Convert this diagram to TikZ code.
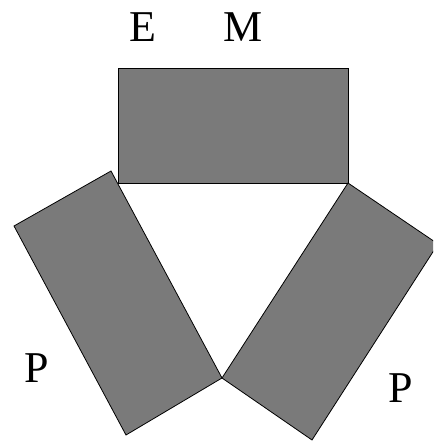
\documentclass[tikz,border=0pt]{standalone}
\usepackage{fontspec}
\setmainfont{Liberation Serif}
\tikzset{
  bloco/.style={draw=black, line width=0.8pt, fill=black!52},
  letra/.style={font=\fontsize{44}{44}\selectfont, inner sep=0pt},
}

\begin{document}
\begin{tikzpicture}[x=1pt, y=-1pt]
  \useasboundingbox (0,0) rectangle (433,441);
  \clip (0,0) rectangle (433,441);
  % cantos dos tres blocos
  \coordinate (m1) at (118,68);
  \coordinate (m2) at (348,68);
  \coordinate (m3) at (348,183);
  \coordinate (m4) at (118,183);
  \coordinate (v) at (222,378);
  \coordinate (l1) at (111,171);
  \coordinate (l2) at (14,226);
  \coordinate (l3) at (126,435);
  \coordinate (r2) at (438,244);
  \coordinate (r3) at (312,440);
  \draw[bloco] (m1) -- (m2) -- (m3) -- (m4) -- cycle;
  \draw[bloco] (l1) -- (v) -- (l3) -- (l2) -- cycle;
  \draw[bloco] (m3) -- (r2) -- (r3) -- (v) -- cycle;
  \node[letra] (e) at (143,27) {E};
  \node[letra] (m) at (243,27) {M};
  \node[letra] (p1) at (37,368) {P};
  \node[letra] (p2) at (401,388) {P};
\end{tikzpicture}
\end{document}
